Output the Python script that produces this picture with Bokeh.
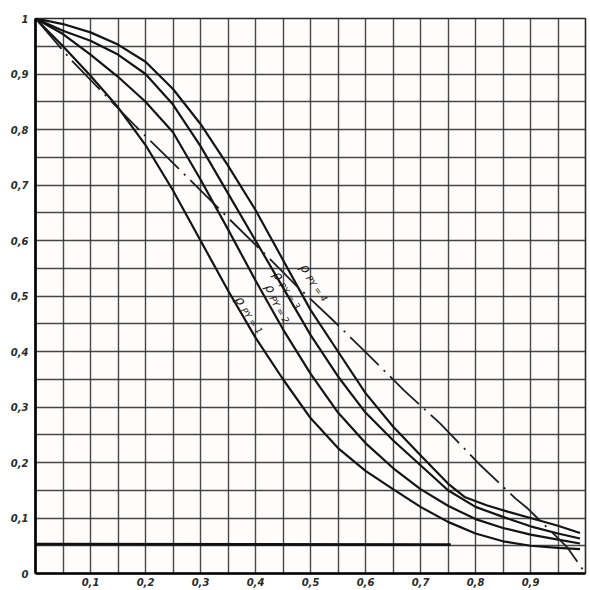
import numpy as np
from bokeh.plotting import figure
from bokeh.models import FixedTicker, Range1d, ColumnDataSource
from bokeh.embed import file_html
from bokeh.resources import INLINE
from bokeh.core.properties import value

# ---------------- data ----------------
# curve rho_PY = 1
x1 = [0, 0.05, 0.10, 0.15, 0.20, 0.25, 0.30, 0.35, 0.40, 0.45, 0.50, 0.55, 0.60, 0.65,
      0.70, 0.75, 0.80, 0.85, 0.90, 0.95, 0.99]
y1 = [1, 0.95, 0.897, 0.84, 0.772, 0.69, 0.60, 0.51, 0.425, 0.35, 0.28, 0.226, 0.185, 0.152,
      0.12, 0.093, 0.072, 0.058, 0.05, 0.046, 0.044]
# curve rho_PY = 2
x2 = [0, 0.05, 0.10, 0.15, 0.20, 0.25, 0.30, 0.35, 0.40, 0.45, 0.50, 0.55, 0.60, 0.65,
      0.70, 0.75, 0.80, 0.85, 0.90, 0.95, 0.99]
y2 = [1, 0.972, 0.935, 0.895, 0.85, 0.795, 0.71, 0.62, 0.528, 0.44, 0.36, 0.29, 0.235, 0.19,
      0.152, 0.122, 0.098, 0.082, 0.07, 0.061, 0.054]
# curve rho_PY = 3
x3 = [0, 0.05, 0.10, 0.15, 0.20, 0.25, 0.30, 0.35, 0.40, 0.45, 0.50, 0.55, 0.60, 0.65,
      0.70, 0.75, 0.80, 0.85, 0.90, 0.95, 0.99]
y3 = [1, 0.978, 0.96, 0.935, 0.90, 0.845, 0.77, 0.685, 0.60, 0.515, 0.43, 0.355, 0.29, 0.24,
      0.195, 0.15, 0.12, 0.102, 0.085, 0.072, 0.063]
# curve rho_PY = 4
x4 = [0, 0.05, 0.10, 0.15, 0.20, 0.25, 0.30, 0.35, 0.40, 0.45, 0.50, 0.55, 0.60, 0.65,
      0.70, 0.75, 0.78, 0.82, 0.86, 0.90, 0.95, 0.99]
y4 = [1, 0.99, 0.975, 0.953, 0.922, 0.873, 0.81, 0.735, 0.655, 0.565, 0.475, 0.40, 0.325, 0.265,
      0.213, 0.162, 0.138, 0.123, 0.111, 0.10, 0.086, 0.073]
# dash-dot reference line
xd = [0, 0.064, 0.18, 0.276, 0.353, 0.43, 0.475, 0.538, 0.602, 0.67, 0.736, 0.809,
      0.873, 0.895, 0.967, 1.0]
yd = [1, 0.926, 0.808, 0.714, 0.638, 0.563, 0.518, 0.459, 0.397, 0.33, 0.27, 0.195,
      0.135, 0.117, 0.047, 0.0]
# thick horizontal line near the bottom
xh = [0, 0.755]
yh = [0.053, 0.052]

# curve labels (position of the rho glyph), angle in degrees (clockwise)
lab_names = ["4", "3", "2", "1"]
lab_x = [0.491, 0.442, 0.427, 0.373]
lab_y = [0.550, 0.537, 0.514, 0.492]
lab_ang = [54, 55, 60, 54]

y_ticks = [0, 0.1, 0.2, 0.3, 0.4, 0.5, 0.6, 0.7, 0.8, 0.9, 1.0]
y_tick_labels = ["0", "0,1", "0,2", "0,3", "0,4", "0,5", "0,6", "0,7", "0,8", "0,9", "1"]
x_ticks = [0.1, 0.2, 0.3, 0.4, 0.5, 0.6, 0.7, 0.8, 0.9]
x_tick_labels = ["0,1", "0,2", "0,3", "0,4", "0,5", "0,6", "0,7", "0,8", "0,9"]

# ---------------- figure ----------------
p = figure(width=588, height=590, x_range=Range1d(0, 1), y_range=Range1d(0, 1),
           output_backend="svg", toolbar_location=None,
           min_border_left=35, min_border_right=3, min_border_top=18, min_border_bottom=17,
           background_fill_color="#fefdfc", border_fill_color="white")

grid_ticks = [round(0.05 * i, 2) for i in range(1, 20)]
for g in (p.xgrid, p.ygrid):
    g.ticker = FixedTicker(ticks=grid_ticks)
    g.grid_line_color = "#333333"
    g.grid_line_width = 1.4
    g.grid_line_alpha = 0.9

p.outline_line_color = "#2a2a2a"
p.outline_line_width = 1.6

p.yaxis.ticker = FixedTicker(ticks=y_ticks)
p.yaxis.major_label_overrides = {t: l for t, l in zip(y_ticks, y_tick_labels)}
p.xaxis.ticker = FixedTicker(ticks=x_ticks)
p.xaxis.major_label_overrides = {t: l for t, l in zip(x_ticks, x_tick_labels)}
for ax in (p.xaxis, p.yaxis):
    ax.axis_line_color = "black"
    ax.axis_line_width = 2.6
    ax.major_tick_line_color = None
    ax.minor_tick_line_color = None
    ax.major_tick_out = 0
    ax.major_tick_in = 0
    ax.minor_tick_out = 0
    ax.minor_tick_in = 0
    ax.major_label_text_font = "DejaVu Sans"
    ax.major_label_text_font_style = "bold italic"
    ax.major_label_text_font_size = "10px"
    ax.major_label_text_color = "#2a2a2a"
p.yaxis.major_label_standoff = 7
p.xaxis.major_label_standoff = 4

# curves
for xs, ys in ((x1, y1), (x2, y2), (x3, y3), (x4, y4)):
    p.line(xs, ys, line_color="#141414", line_width=2.2, line_join="round")

p.line(xd, yd, line_color="#1e1e1e", line_width=1.8, line_dash="40 7 2 7",
       line_dash_offset=0)
p.line(xh, yh, line_color="#111111", line_width=2.6)

# labels
ang = np.radians(lab_ang)
d = 8.0   # distance along the text from rho to subscript (px)
s = 3.0   # subscript drop (px)
sub_dx = d * np.cos(ang) - s * np.sin(ang)
sub_dy = d * np.sin(ang) + s * np.cos(ang)
src = ColumnDataSource(dict(
    x=lab_x, y=lab_y, a=list(-ang),
    rho=["ρ"] * len(lab_names),
    sub=["PY = " + n for n in lab_names],
    dx=list(sub_dx), dy=list(sub_dy),
))
p.text(x="x", y="y", text="rho", angle="a", source=src,
       text_font=value("DejaVu Sans"), text_font_style="italic",
       text_font_size="13px", text_color="#1a1a1a",
       text_align="center", text_baseline="middle")
p.text(x="x", y="y", text="sub", angle="a", source=src,
       x_offset="dx", y_offset="dy",
       text_font=value("DejaVu Sans"), text_font_style="italic",
       text_font_size="9px", text_color="#1a1a1a",
       text_align="left", text_baseline="middle")

open("out.html", "w").write(file_html(p, INLINE))
